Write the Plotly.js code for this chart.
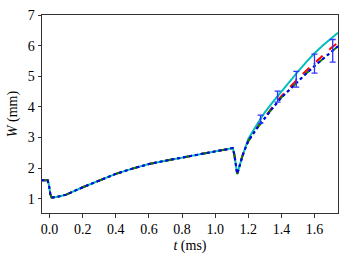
<!DOCTYPE html>
<html>
<head>
<meta charset="utf-8">
<script src="https://cdn.plot.ly/plotly-3.0.1.min.js"></script>
<style>
  html, body { margin: 0; padding: 0; background: #fff; }
  #chart { width: 349px; height: 262px; }
</style>
</head>
<body>
<div id="chart"></div>
<script>
// shared part of the curve (all models agree up to the second dip)
const tShared = [-0.05, -0.012, -0.004, 0.004, 0.012, 0.04, 0.08, 0.1, 0.2, 0.3, 0.4, 0.5, 0.6, 0.7, 0.8, 0.9, 1.0, 1.05, 1.107, 1.117, 1.126, 1.133, 1.14, 1.15, 1.165, 1.18];
const wShared = [1.6, 1.6, 1.45, 1.15, 1.04, 1.05, 1.10, 1.13, 1.37, 1.6, 1.81, 1.98, 2.13, 2.24, 2.34, 2.45, 2.55, 2.59, 2.65, 2.4, 2.0, 1.81, 1.93, 2.15, 2.4, 2.62];

// after the dip the models split
const tLate = [1.18, 1.2, 1.25, 1.3, 1.35, 1.4, 1.45, 1.5, 1.55, 1.6, 1.65, 1.7, 1.742];
const wCyan  = [2.64, 2.95, 3.4, 3.82, 4.17, 4.5, 4.84, 5.15, 5.46, 5.75, 6.0, 6.23, 6.42];
const wRed   = [2.62, 2.88, 3.3, 3.67, 4.02, 4.35, 4.64, 4.92, 5.18, 5.43, 5.68, 5.92, 6.1];
const wGreen = [2.62, 2.88, 3.28, 3.64, 3.98, 4.3, 4.57, 4.83, 5.09, 5.33, 5.57, 5.8, 5.98];
const wBlue  = [2.62, 2.88, 3.28, 3.64, 3.98, 4.3, 4.57, 4.83, 5.09, 5.33, 5.57, 5.8, 5.98];

// measurements with error bars
const tMeas = [1.274, 1.377, 1.49, 1.60, 1.71];
const wMeas = [3.6, 4.33, 4.9, 5.41, 5.83];
const wErr  = [0.13, 0.18, 0.26, 0.31, 0.37];

function series(late){
  return {
    x: tShared.concat(tLate.slice(1)),
    y: wShared.concat(late.slice(1))
  };
}

const traces = [];
const styles = [
  {w: wCyan,  color: "#00bfbf", dash: "solid"},
  {w: wRed,   color: "#ff0000", dash: "dash"},
  {w: wGreen, color: "#008000", dash: "dashdot"},
  {w: wBlue,  color: "#0000ff", dash: "dot"}
];
styles.forEach(s => {
  const d = series(s.w);
  traces.push({
    x: d.x, y: d.y,
    mode: "lines", type: "scatter",
    line: {color: s.color, width: 2, dash: s.dash},
    hoverinfo: "skip"
  });
});

traces.push({
  x: tMeas, y: wMeas,
  mode: "markers", type: "scatter",
  marker: {color: "#3333ff", size: 2},
  error_y: {type: "data", array: wErr, visible: true, color: "#3333ff", thickness: 1.3, width: 3}
});

const font = {family: "Liberation Serif, DejaVu Serif, serif", size: 14, color: "#000"};

Plotly.newPlot("chart", traces, {
  width: 349, height: 262,
  margin: {l: 42, r: 11, t: 15, b: 49},
  showlegend: false,
  paper_bgcolor: "#fff", plot_bgcolor: "#fff",
  font: font,
  xaxis: {
    range: [-0.046, 1.742],
    tickvals: [0, 0.2, 0.4, 0.6, 0.8, 1.0, 1.2, 1.4, 1.6],
    ticktext: ["0.0", "0.2", "0.4", "0.6", "0.8", "1.0", "1.2", "1.4", "1.6"],
    ticks: "outside", ticklen: 3.5, tickwidth: 0.8, tickcolor: "#000",
    showline: true, mirror: true, linecolor: "#333", linewidth: 1,
    showgrid: false, zeroline: false,
    title: {text: "<i>t</i> (ms)", font: font, standoff: 3}
  },
  yaxis: {
    range: [0.53, 7.0],
    tickvals: [1, 2, 3, 4, 5, 6, 7],
    ticks: "outside", ticklen: 3.5, tickwidth: 0.8, tickcolor: "#000",
    showline: true, mirror: true, linecolor: "#333", linewidth: 1,
    showgrid: false, zeroline: false,
    title: {text: "<i>W</i> (mm)", font: font, standoff: 6}
  }
}, {displayModeBar: false, staticPlot: true});
</script>
</body>
</html>
